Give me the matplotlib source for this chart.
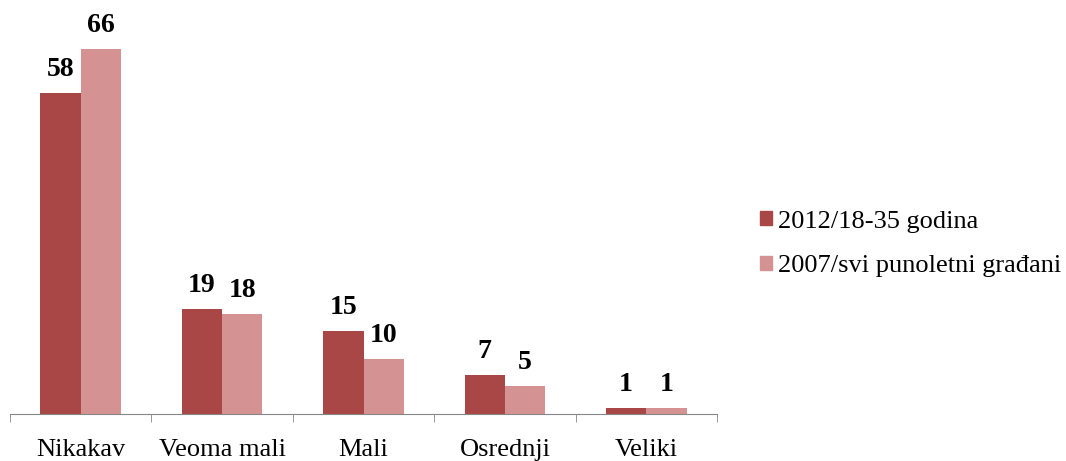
import numpy as np
from matplotlib import pyplot as plt
from matplotlib.patches import Patch

categories = ["Nikakav", "Veoma mali", "Mali", "Osrednji", "Veliki"]
series_names = ["2012/18-35 godina", "2007/svi punoletni građani"]
values_2012 = [58, 19, 15, 7, 1]
values_2007 = [66, 18, 10, 5, 1]

colors = ["#A94646", "#D49392"]

plt.rcParams['font.family'] = ['Liberation Serif', 'DejaVu Serif']

fig = plt.figure(figsize=(10.66, 4.61), dpi=100)
ax = fig.add_axes([10 / 1066, 47 / 461, 707 / 1066, 387 / 461])

x = np.arange(len(categories))
w = 0.285
for vals, off, c in [(values_2012, -w / 2, colors[0]), (values_2007, w / 2, colors[1])]:
    bars = ax.bar(x + off, vals, width=w, color=c, edgecolor='none')
    for b, v in zip(bars, vals):
        ax.annotate(str(v), (b.get_x() + b.get_width() / 2, v), xytext=(0, 8),
                    textcoords='offset points', ha='center', va='bottom',
                    fontsize=20, fontweight='bold', annotation_clip=False)

ax.set_xlim(-0.5, len(categories) - 0.5)
ax.set_ylim(0, 70)
for s in ['top', 'right', 'left']:
    ax.spines[s].set_visible(False)
ax.spines['bottom'].set_color('#868686')
ax.set_yticks([])
ax.set_xticks(x)
ax.set_xticklabels(categories, fontsize=19)
ax.tick_params(axis='x', which='major', length=0, pad=18)
ax.set_xticks(np.arange(len(categories) + 1) - 0.5, minor=True)
ax.tick_params(axis='x', which='minor', length=6, color='#868686', direction='out')

handles = [Patch(color=colors[0]), Patch(color=colors[1])]
fig.legend(handles, series_names, loc='center left', bbox_to_anchor=(742 / 1066, 217 / 461),
           frameon=False, fontsize=19, handlelength=0.45, handleheight=0.45,
           handletextpad=0.23, labelspacing=0.85, borderpad=0.2)

fig.savefig("out.png", dpi=100)
